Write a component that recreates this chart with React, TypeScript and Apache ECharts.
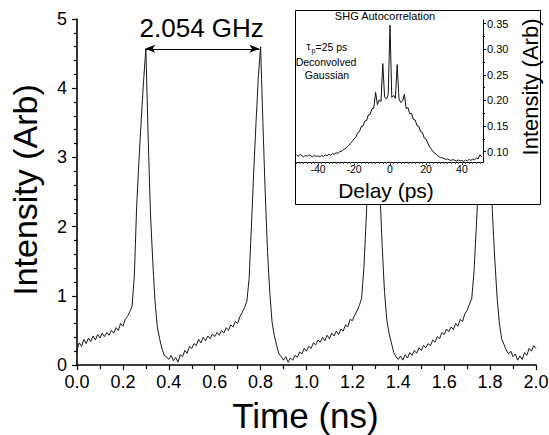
import React, { useEffect, useRef } from 'react';
import * as echarts from 'echarts';

const FONT = '"Liberation Sans", Arial, Helvetica, sans-serif';

// Main trace: intensity (arb.) sampled every 0.01 ns from 0.00 to 2.00 ns
const timeStart = 0;
const timeStep = 0.01;
const intensity = [
  0.22, 0.32, 0.27, 0.37, 0.31, 0.39, 0.34, 0.42, 0.36, 0.44,
  0.39, 0.46, 0.41, 0.47, 0.43, 0.50, 0.46, 0.54, 0.50, 0.60,
  0.56, 0.66, 0.70, 0.77, 0.85, 1.30, 2.30, 2.95, 3.55, 4.10,
  4.57, 3.30, 2.20, 1.50, 0.92, 0.55, 0.38, 0.24, 0.14, 0.12,
  0.08, 0.14, 0.06, 0.11, 0.04, 0.15, 0.12, 0.21, 0.17, 0.27,
  0.24, 0.31, 0.28, 0.37, 0.32, 0.40, 0.35, 0.42, 0.38, 0.45,
  0.41, 0.47, 0.43, 0.50, 0.46, 0.54, 0.50, 0.58, 0.55, 0.63,
  0.60, 0.70, 0.76, 0.83, 0.92, 1.25, 2.00, 2.80, 3.50, 4.15,
  4.60, 3.50, 2.50, 1.65, 1.05, 0.62, 0.42, 0.28, 0.16, 0.12,
  0.07, 0.12, 0.04, 0.10, 0.07, 0.14, 0.11, 0.19, 0.16, 0.24,
  0.20, 0.27, 0.24, 0.32, 0.29, 0.36, 0.33, 0.40, 0.35, 0.43,
  0.38, 0.46, 0.42, 0.49, 0.44, 0.52, 0.49, 0.58, 0.55, 0.66,
  0.64, 0.72, 0.78, 0.86, 0.96, 1.40, 2.10, 2.90, 3.70, 4.55,
  4.00, 3.20, 2.50, 1.70, 1.05, 0.65, 0.45, 0.32, 0.18, 0.12,
  0.08, 0.13, 0.07, 0.15, 0.10, 0.18, 0.14, 0.21, 0.17, 0.25,
  0.21, 0.28, 0.25, 0.31, 0.28, 0.36, 0.33, 0.41, 0.38, 0.47,
  0.44, 0.52, 0.48, 0.55, 0.51, 0.60, 0.56, 0.66, 0.63, 0.74,
  0.79, 0.88, 0.96, 1.35, 2.00, 2.70, 3.40, 4.10, 4.55, 4.00,
  3.00, 2.20, 1.55, 1.00, 0.62, 0.38, 0.30, 0.22, 0.16, 0.20,
  0.12, 0.16, 0.07, 0.13, 0.08, 0.18, 0.14, 0.24, 0.20, 0.28,
  0.24,
];

// Inset: SHG autocorrelation sampled every 1 ps from -52 to 51 ps
const delayStart = -52;
const delayStep = 1;
const shgSignal = [
  0.094, 0.091, 0.095, 0.092, 0.090, 0.093, 0.091, 0.094, 0.092, 0.090,
  0.093, 0.091, 0.092, 0.090, 0.093, 0.091, 0.094, 0.092, 0.095, 0.093,
  0.096, 0.095, 0.098, 0.097, 0.100, 0.101, 0.104, 0.106, 0.109, 0.112,
  0.116, 0.120, 0.125, 0.128, 0.137, 0.139, 0.149, 0.150, 0.160, 0.161,
  0.172, 0.173, 0.184, 0.185, 0.216, 0.192, 0.201, 0.198, 0.272, 0.207,
  0.203, 0.211, 0.347, 0.206, 0.210, 0.204, 0.270, 0.203, 0.196, 0.199,
  0.212, 0.184, 0.186, 0.174, 0.175, 0.163, 0.162, 0.151, 0.150, 0.139,
  0.138, 0.127, 0.125, 0.117, 0.110, 0.105, 0.100, 0.097, 0.094, 0.091,
  0.089, 0.088, 0.087, 0.085, 0.086, 0.084, 0.083, 0.085, 0.083, 0.082,
  0.084, 0.082, 0.083, 0.081, 0.084, 0.082, 0.085, 0.083, 0.086, 0.084,
  0.088, 0.086, 0.094, 0.090,
];

// Axis ticks
const insetXLabels = [-40, -20, 0, 20, 40];
const insetXMinor = [
  -52, -50, -48, -46, -44, -42, -40, -38, -36, -34, -32, -30, -28, -26, -24, -22, -20,
  -18, -16, -14, -12, -10, -8, -6, -4, -2, 0, 2, 4, 6, 8, 10, 12, 14, 16, 18, 20,
  22, 24, 26, 28, 30, 32, 34, 36, 38, 40, 42, 44, 46, 48, 50,
];
const insetYLabels = [0.10, 0.15, 0.20, 0.25, 0.30, 0.35];
const insetYMinor = [0.10, 0.125, 0.15, 0.175, 0.20, 0.225, 0.25, 0.275, 0.30, 0.325, 0.35];

// Annotation: pulse-to-pulse spacing
const pulseA = 0.297;
const pulseB = 0.795;
const arrowLevel = 4.57;
const repRateLabel = '2.054 GHz';

export default function App() {
  const ref = useRef<HTMLDivElement>(null);
  useEffect(() => {
    if (!ref.current) return;
    const chart = echarts.init(ref.current, undefined, { renderer: 'svg' });
    const mainData = intensity.map((v, i) => [timeStart + i * timeStep, v]);
    const insetData = shgSignal.map((v, i) => [delayStart + i * delayStep, v]);

    const axisColor = '#000';
    const txt = (text: string, x: number, y: number, fontSize: number, extra: any = {}, align = 'center') => ({
      type: 'text', x, y, z: 20, ...extra,
      style: {
        text, fontSize, fontFamily: FONT, fill: '#000', align, verticalAlign: 'middle',
        lineHeight: Math.round(fontSize * 0.9),
      },
    });
    const option: any = {
      animation: false,
      backgroundColor: '#fff',
      textStyle: { fontFamily: FONT },
      grid: [
        { left: 77, right: 13, top: 19, bottom: 70, containLabel: false, outerBoundsMode: 'none' },
        { left: 295, right: 66, top: 20, bottom: 273, containLabel: false, outerBoundsMode: 'none' },
      ],
      xAxis: [
        {
          type: 'value', gridIndex: 0, position: 'bottom', min: 0, max: 2, interval: 0.2,
          axisLine: { show: true, onZero: false, lineStyle: { color: axisColor, width: 1.6 } },
          axisTick: { show: true, inside: false, length: 5, lineStyle: { color: axisColor, width: 1.2 } },
          minorTick: { show: true, splitNumber: 2, length: 4, lineStyle: { color: axisColor, width: 1.2 } },
          axisLabel: { color: '#000', fontSize: 18, fontFamily: FONT, margin: 8, formatter: (v: number) => v.toFixed(1) },
          splitLine: { show: false },
          minorSplitLine: { show: false },
        },
        {
          type: 'value', gridIndex: 1, position: 'bottom', min: -52.8, max: 51.7, z: 10,
          axisLine: { show: true, onZero: false, lineStyle: { color: axisColor, width: 1 } },
          axisTick: { show: true, inside: false, length: 3, customValues: insetXLabels, lineStyle: { color: axisColor, width: 1 } },
          axisLabel: { color: '#000', fontSize: 10.5, lineHeight: 10, fontFamily: FONT, margin: 2, customValues: insetXLabels },
          splitLine: { show: false },
        },
        {
          type: 'value', gridIndex: 1, position: 'bottom', min: -52.8, max: 51.7, z: 10,
          axisLine: { show: false, onZero: false },
          axisTick: { show: true, inside: false, length: 2, customValues: insetXMinor, lineStyle: { color: '#555', width: 1 } },
          axisLabel: { show: false },
          splitLine: { show: false },
        },
      ],
      yAxis: [
        {
          type: 'value', gridIndex: 0, position: 'left', min: 0, max: 5, interval: 1,
          axisLine: { show: true, onZero: false, lineStyle: { color: axisColor, width: 1.6 } },
          axisTick: { show: true, inside: false, length: 5, lineStyle: { color: axisColor, width: 1.2 } },
          minorTick: { show: true, splitNumber: 5, length: 3, lineStyle: { color: axisColor, width: 1.2 } },
          axisLabel: { color: '#000', fontSize: 18, fontFamily: FONT, margin: 10 },
          splitLine: { show: false },
          minorSplitLine: { show: false },
        },
        {
          type: 'value', gridIndex: 1, position: 'right', min: 0.08, max: 0.357, z: 10,
          axisLine: { show: true, onZero: false, lineStyle: { color: axisColor, width: 1 } },
          axisTick: { show: true, inside: false, length: 3, customValues: insetYLabels, lineStyle: { color: axisColor, width: 1 } },
          axisLabel: {
            color: '#000', fontSize: 11, fontFamily: FONT, margin: 4, customValues: insetYLabels,
            formatter: (v: number) => v.toFixed(2),
          },
          splitLine: { show: false },
        },
        {
          type: 'value', gridIndex: 1, position: 'right', min: 0.08, max: 0.357, z: 10,
          axisLine: { show: false, onZero: false },
          axisTick: { show: true, inside: false, length: 2, customValues: insetYMinor, lineStyle: { color: axisColor, width: 1 } },
          axisLabel: { show: false },
          splitLine: { show: false },
        },
      ],
      series: [
        {
          type: 'line', xAxisIndex: 0, yAxisIndex: 0, data: mainData, showSymbol: false, symbol: 'none',
          z: 2, lineStyle: { color: '#1a1a1a', width: 1 },
          markLine: {
            silent: true, symbol: ['arrow', 'arrow'], symbolSize: [6, 10], animation: false,
            lineStyle: { color: '#000', width: 1, type: 'solid' },
            label: { show: false },
            data: [[{ coord: [pulseA, arrowLevel] }, { coord: [pulseB, arrowLevel] }]],
          },
        },
        {
          type: 'line', xAxisIndex: 1, yAxisIndex: 1, data: insetData, showSymbol: false, symbol: 'none',
          z: 10, lineStyle: { color: '#111', width: 1 },
        },
      ],
      graphic: {
        elements: [
          {
            type: 'rect', z: 5, shape: { x: 295.5, y: 10.5, width: 245, height: 194 },
            style: { fill: '#fff', stroke: '#000', lineWidth: 1 },
          },
          txt('Intensity (Arb)', 25, 190, 34, { rotation: Math.PI / 2 }),
          txt('Time (ns)', 305.5, 415, 35),
          txt(repRateLabel, 201.7, 28, 26),
          txt('Delay (ps)', 386, 190, 21),
          txt('Intensity (Arb)', 530, 87, 22, { rotation: Math.PI / 2 }),
          txt('SHG Autocorrelation', 385, 16, 11),
          txt('τ', 306.5, 46, 10, {}, 'left'),
          txt('p', 311.5, 50, 7, {}, 'left'),
          txt('=25 ps', 315.5, 47, 10.5, {}, 'left'),
          txt('Deconvolved', 326, 62, 10.5),
          txt('Gaussian', 327, 75, 10.5),
        ],
      },
    };
    chart.setOption(option);
    return () => chart.dispose();
  }, []);
  return (
    <div
      ref={ref}
      style={{ position: 'absolute', left: 0, top: 0, width: 549, height: 435, background: '#fff' }}
    />
  );
}
